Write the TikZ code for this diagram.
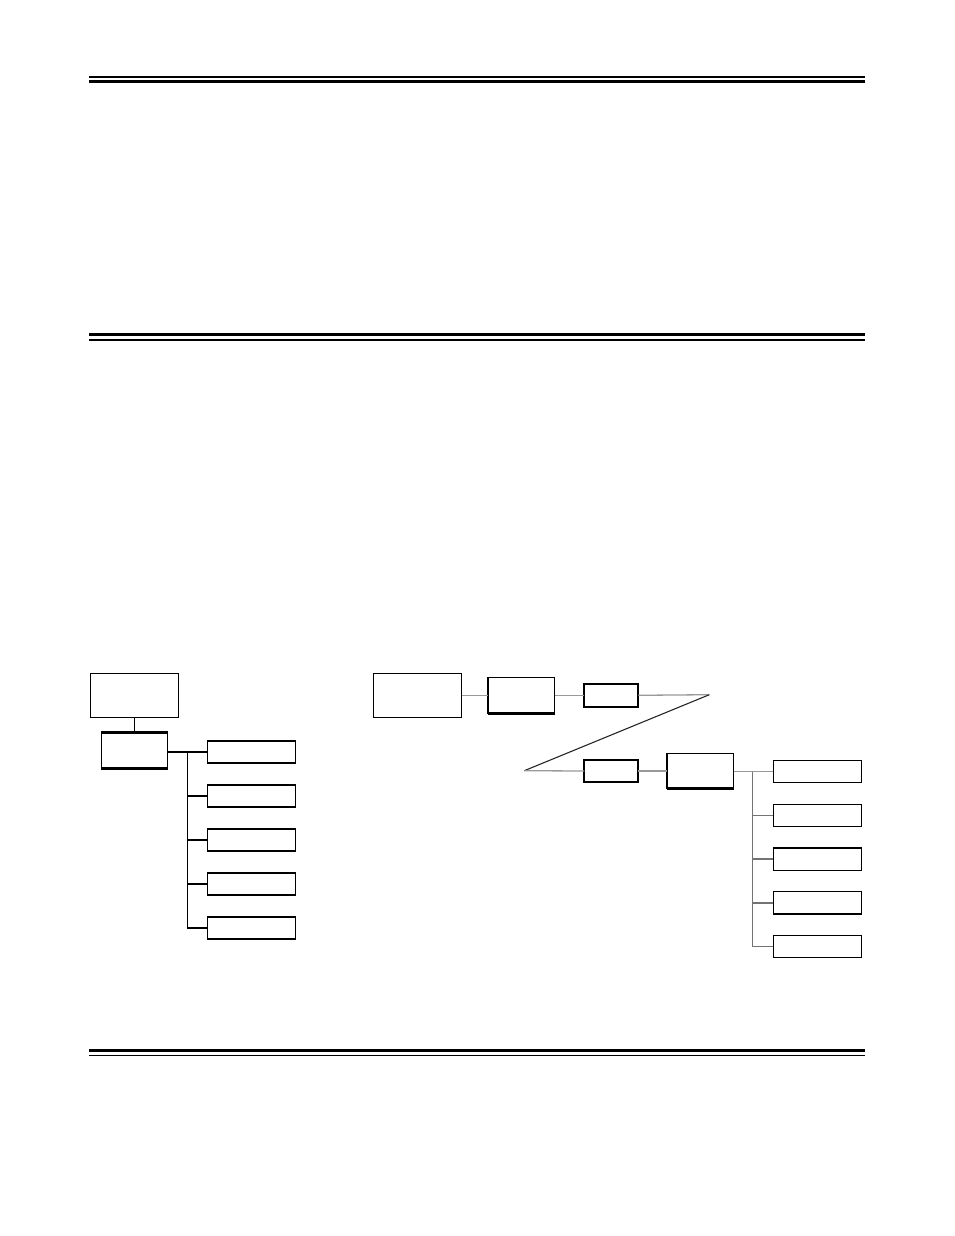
\documentclass[tikz,border=0pt]{standalone}
\usepackage{tikz}
\usetikzlibrary{calc}
\tikzstyle{frame} = [rectangle, draw, line width=0.65pt, inner sep=0pt, outer sep=0pt, minimum width=44.2pt, minimum height=22pt]
\tikzstyle{midbox} = [frame, minimum width=33.2pt, minimum height=18pt]
\tikzstyle{smallbox} = [frame, line width=1.1pt, minimum width=27pt, minimum height=11.3pt]
\tikzstyle{item} = [frame, minimum width=44.2pt, minimum height=11.1pt]
\tikzstyle{link} = [line width=0.55pt]
\tikzstyle{glink} = [line width=0.65pt, black!40]
\tikzstyle{rule} = [line width=0.65pt]
\tikzstyle{heavyrule} = [line width=1.5pt]

\begin{document}
\begin{tikzpicture}[x=0.5pt, y=-0.5pt]
            \useasboundingbox (0,0) rectangle (954,1236);
            % page rules
            \draw [rule] (89,77) -- (865,77);
            \draw [heavyrule] (89,81.2) -- (865,81.2);
            \draw [heavyrule] (89,334.5) -- (865,334.5);
            \draw [rule] (89,340) -- (865,340);
            \draw [heavyrule] (89,1050.5) -- (865,1050.5);
            \draw [rule] (89,1055.7) -- (865,1055.7);
            % left tree
            \node (A) [frame] at (134.5,695.3) {};
            \node (B) [midbox,below of = A,node distance=27.5pt] {};
            \node (L1) [item] at (251.5,752) {};
            \node (L2) [item,below of = L1,node distance=22pt] {};
            \node (L3) [item,below of = L2,node distance=22pt] {};
            \node (L4) [item,below of = L3,node distance=22pt] {};
            \node (L5) [item,below of = L4,node distance=22pt] {};
            \draw [line width=1.3pt] (B.north west) -- (B.north east);
            \draw [line width=1.3pt] (B.south west) -- (B.south east);
            \coordinate (lt) at (187.3,752);
            \draw [link] (A) -- (B);
            \draw [link] (B.east |- L1.west) -- (L1.west);
            \draw [link] (lt) |- (L2.west);
            \draw [link] (lt) |- (L3.west);
            \draw [link] (lt) |- (L4.west);
            \draw [link] (lt) |- (L5.west);
            % right tree
            \node (C) [frame] at (417.5,695.3) {};
            \node (D) [midbox,right of = C,node distance=51.9pt] {};
            \node (E) [smallbox,right of = D,node distance=45pt] {};
            \node (F) [smallbox,below of = E,node distance=37.85pt] {};
            \node (G) [midbox,right of = F,node distance=44.5pt,minimum width=33.4pt,minimum height=17.7pt] {};
            \node (R1) [item] at (817.5,771.5) {};
            \node (R2) [item,below of = R1,node distance=21.9pt] {};
            \node (R3) [item,below of = R2,node distance=21.9pt] {};
            \node (R4) [item,below of = R3,node distance=21.9pt] {};
            \node (R5) [item,below of = R4,node distance=21.9pt] {};
            \draw [line width=1.3pt] (D.south west) -- (D.south east);
            \draw [line width=1.3pt] (G.south west) -- (G.south east);
            \coordinate (P) at (709.3,694.7);
            \coordinate (Q) at (524.3,770.7);
            \coordinate (rt) at (752.7,771.5);
            \draw [glink] (C) -- (D);
            \draw [glink] (D) -- (E);
            \draw [glink] (E.east) -- (P);
            \draw [link,black!85] (P) -- (Q);
            \draw [glink] (Q) -- (F.west);
            \draw [glink] (F) -- (G);
            \draw [glink] (G.east |- R1.west) -- (R1.west);
            \draw [glink,black!55] (rt) |- (R2.west);
            \draw [glink,black!55] (rt) |- (R3.west);
            \draw [glink,black!55] (rt) |- (R4.west);
            \draw [glink,black!55] (rt) |- (R5.west);
        \end{tikzpicture}
\end{document}
